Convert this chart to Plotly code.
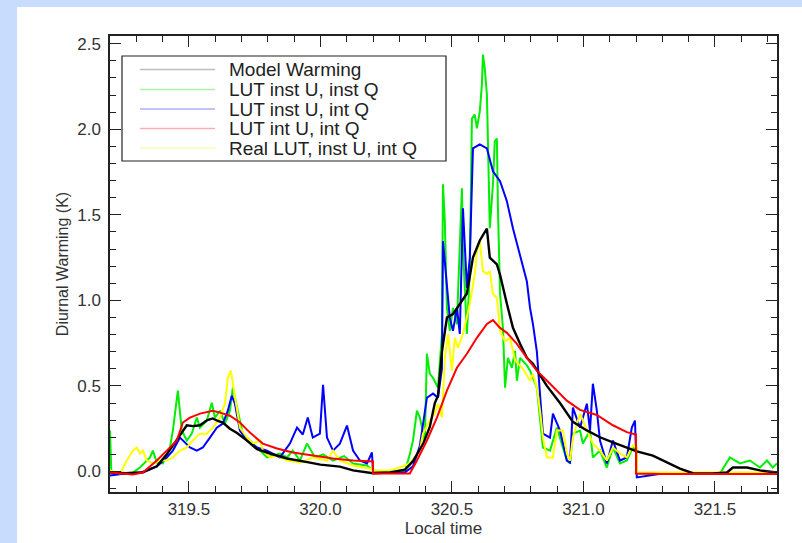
import plotly.graph_objects as go

# ---------------- data ----------------
black_x = [319.200, 319.260, 319.320, 319.378, 319.416, 319.439, 319.466, 319.492, 319.515, 319.542,
           319.570, 319.591, 319.610, 319.629, 319.656, 319.683, 319.721, 319.759, 319.808, 319.873,
           319.950, 320.000, 320.074, 320.124, 320.200, 320.264, 320.321, 320.352, 320.390, 320.416,
           320.435, 320.447, 320.462, 320.481, 320.504, 320.530, 320.557, 320.580, 320.606, 320.633,
           320.644, 320.671, 320.683, 320.709, 320.732, 320.759, 320.785, 320.808, 320.823, 320.861,
           320.911, 320.960, 321.013, 321.063, 321.112, 321.165, 321.203, 321.264, 321.317, 321.367,
           321.416, 321.492, 321.546, 321.568, 321.622, 321.671, 321.736]
black_y = [-0.006, -0.010, -0.006, 0.030, 0.100, 0.150, 0.210, 0.270, 0.265, 0.270,
           0.300, 0.310, 0.295, 0.286, 0.250, 0.225, 0.180, 0.130, 0.105, 0.076,
           0.055, 0.040, 0.028, 0.006, -0.010, -0.006, 0.010, 0.060, 0.160, 0.260,
           0.400, 0.443, 0.700, 0.900, 0.920, 0.980, 1.040, 1.250, 1.350, 1.420,
           1.250, 1.210, 1.150, 0.980, 0.840, 0.746, 0.664, 0.629, 0.590, 0.500,
           0.400, 0.290, 0.240, 0.200, 0.170, 0.140, 0.117, 0.093, 0.052, 0.017,
           -0.010, -0.012, -0.006, 0.023, 0.023, 0.006, -0.006]

green_x = [319.200, 319.205, 319.238, 319.287, 319.314, 319.352, 319.363, 319.378, 319.401, 319.428,
           319.439, 319.458, 319.473, 319.492, 319.511, 319.530, 319.542, 319.568, 319.587, 319.599,
           319.618, 319.637, 319.656, 319.667, 319.683, 319.705, 319.732, 319.770, 319.797, 319.846,
           319.873, 319.895, 319.922, 319.949, 319.980, 320.010, 320.048, 320.090, 320.124, 320.177,
           320.200, 320.264, 320.321, 320.340, 320.352, 320.367, 320.378, 320.397, 320.405, 320.416,
           320.428, 320.447, 320.462, 320.466, 320.473, 320.481, 320.492, 320.504, 320.519, 320.538,
           320.542, 320.557, 320.568, 320.576, 320.587, 320.595, 320.606, 320.614, 320.618, 320.625,
           320.633, 320.637, 320.644, 320.656, 320.663, 320.671, 320.675, 320.683, 320.694, 320.702,
           320.713, 320.728, 320.740, 320.747, 320.759, 320.785, 320.797, 320.823, 320.835, 320.846,
           320.873, 320.899, 320.922, 320.937, 320.949, 320.960, 320.987, 320.998, 321.025, 321.036,
           321.063, 321.089, 321.112, 321.139, 321.165, 321.188, 321.203, 321.203, 321.300, 321.519,
           321.557, 321.595, 321.633, 321.671, 321.698, 321.720, 321.736]
green_y = [0.239, -0.006, -0.012, -0.006, 0.023, 0.082, 0.122, 0.052, 0.047, 0.140,
           0.239, 0.472, 0.239, 0.181, 0.221, 0.315, 0.256, 0.297, 0.402, 0.315,
           0.355, 0.280, 0.355, 0.490, 0.373, 0.221, 0.181, 0.122, 0.082, 0.105,
           0.082, 0.122, 0.064, 0.163, 0.080, 0.100, 0.064, 0.090, 0.047, 0.035,
           0.006, -0.006, 0.000, 0.100, 0.181, 0.355, 0.315, 0.180, 0.688, 0.571,
           0.548, 0.490, 0.800, 1.678, 1.463, 0.956, 0.822, 0.956, 0.860, 1.655,
           1.305, 0.804, 1.171, 2.063, 2.086, 2.005, 2.104, 2.261, 2.436, 2.354,
           2.203, 1.929, 1.422, 1.678, 1.929, 1.946, 1.538, 1.037, 0.839, 0.490,
           0.664, 0.606, 0.705, 0.530, 0.664, 0.620, 0.589, 0.490, 0.309, 0.140,
           0.122, 0.256, 0.140, 0.064, 0.047, 0.221, 0.239, 0.163, 0.239, 0.082,
           0.122, 0.023, 0.140, 0.047, 0.064, 0.140, 0.120, -0.012, -0.012, -0.012,
           0.082, 0.047, 0.064, 0.023, 0.064, 0.023, 0.047]

blue_x = [319.200, 319.260, 319.325, 319.378, 319.416, 319.439, 319.466, 319.504, 319.530, 319.553,
          319.580, 319.606, 319.629, 319.648, 319.663, 319.675, 319.694, 319.721, 319.759, 319.797,
          319.846, 319.884, 319.911, 319.933, 319.952, 319.971, 319.998, 320.010, 320.025, 320.048,
          320.074, 320.101, 320.124, 320.150, 320.177, 320.196, 320.200, 320.264, 320.321, 320.352,
          320.378, 320.405, 320.428, 320.447, 320.462, 320.466, 320.481, 320.492, 320.504, 320.519,
          320.530, 320.542, 320.557, 320.568, 320.580, 320.606, 320.633, 320.656, 320.683, 320.709,
          320.732, 320.759, 320.785, 320.797, 320.808, 320.823, 320.835, 320.846, 320.873, 320.884,
          320.911, 320.937, 320.949, 320.960, 320.987, 321.013, 321.025, 321.036, 321.051, 321.063,
          321.089, 321.112, 321.139, 321.165, 321.184, 321.196, 321.203, 321.300, 321.500, 321.736]
blue_y = [-0.023, -0.012, -0.006, 0.030, 0.082, 0.122, 0.198, 0.140, 0.122, 0.140,
          0.198, 0.256, 0.280, 0.355, 0.443, 0.396, 0.239, 0.181, 0.140, 0.122,
          0.082, 0.163, 0.256, 0.216, 0.315, 0.198, 0.221, 0.507, 0.198, 0.122,
          0.163, 0.268, 0.122, 0.064, 0.047, 0.111, -0.006, -0.006, -0.006, 0.030,
          0.150, 0.431, 0.455, 0.431, 0.600, 1.346, 1.072, 0.897, 0.822, 0.956,
          0.804, 1.538, 1.072, 1.247, 1.888, 1.911, 1.888, 1.754, 1.696, 1.579,
          1.422, 1.270, 1.110, 0.956, 0.862, 0.700, 0.430, 0.221, 0.198, 0.338,
          0.239, 0.064, 0.052, 0.373, 0.256, 0.396, 0.239, 0.513, 0.355, 0.181,
          0.047, 0.181, 0.064, 0.082, 0.256, 0.297, -0.035, -0.012, -0.012, -0.012]

red_x = [319.200, 319.238, 319.287, 319.325, 319.378, 319.416, 319.454, 319.477, 319.504, 319.542,
         319.591, 319.618, 319.656, 319.694, 319.732, 319.781, 319.835, 319.895, 319.971, 320.048,
         320.124, 320.200, 320.200, 320.253, 320.340, 320.367, 320.405, 320.443, 320.481, 320.519,
         320.557, 320.595, 320.633, 320.656, 320.683, 320.709, 320.747, 320.785, 320.823, 320.873,
         320.937, 320.987, 321.051, 321.112, 321.165, 321.200, 321.200, 321.300, 321.500, 321.736]
red_y = [-0.006, -0.012, -0.017, -0.006, 0.064, 0.122, 0.181, 0.286, 0.315, 0.338,
         0.355, 0.344, 0.326, 0.286, 0.227, 0.163, 0.134, 0.111, 0.093, 0.076,
         0.064, 0.058, -0.012, -0.012, -0.012, 0.064, 0.181, 0.315, 0.472, 0.606,
         0.688, 0.781, 0.862, 0.885, 0.839, 0.810, 0.746, 0.664, 0.589, 0.513,
         0.414, 0.360, 0.330, 0.270, 0.230, 0.216, -0.012, -0.015, -0.015, -0.015]

yellow_x = [319.200, 319.238, 319.264, 319.287, 319.302, 319.314, 319.325, 319.340, 319.363, 319.390,
            319.416, 319.439, 319.466, 319.492, 319.515, 319.542, 319.568, 319.591, 319.618, 319.637,
            319.648, 319.660, 319.667, 319.683, 319.694, 319.721, 319.743, 319.770, 319.781, 319.808,
            319.835, 319.873, 319.922, 319.971, 320.025, 320.048, 320.074, 320.124, 320.162, 320.188,
            320.200, 320.226, 320.264, 320.302, 320.340, 320.378, 320.390, 320.416, 320.435, 320.447,
            320.462, 320.473, 320.485, 320.500, 320.511, 320.523, 320.542, 320.568, 320.587, 320.595,
            320.606, 320.618, 320.633, 320.644, 320.656, 320.671, 320.683, 320.702, 320.721, 320.740,
            320.770, 320.797, 320.808, 320.823, 320.835, 320.846, 320.861, 320.884, 320.899, 320.922,
            320.937, 320.949, 320.960, 320.987, 321.013, 321.036, 321.063, 321.089, 321.112, 321.139,
            321.165, 321.188, 321.203, 321.203, 321.400, 321.736]
yellow_y = [0.006, -0.012, 0.064, 0.122, 0.140, 0.105, 0.122, 0.064, 0.047, 0.064,
            0.064, 0.082, 0.122, 0.140, 0.181, 0.221, 0.221, 0.256, 0.315, 0.396,
            0.548, 0.589, 0.513, 0.373, 0.256, 0.198, 0.163, 0.181, 0.122, 0.082,
            0.093, 0.064, 0.052, 0.082, 0.064, 0.122, 0.064, 0.035, 0.023, 0.017,
            0.006, 0.006, 0.006, 0.023, 0.047, 0.122, 0.221, 0.297, 0.338, 0.396,
            0.315, 0.664, 0.804, 0.589, 0.781, 0.723, 0.804, 0.979, 1.154, 1.288,
            1.346, 1.171, 1.154, 1.171, 1.037, 1.014, 0.822, 0.760, 0.780, 0.650,
            0.600, 0.530, 0.571, 0.490, 0.355, 0.198, 0.082, 0.082, 0.239, 0.239,
            0.105, 0.064, 0.198, 0.338, 0.239, 0.163, 0.122, 0.064, 0.140, 0.105,
            0.082, 0.152, 0.140, -0.006, -0.006, -0.006]

legend_names = ["Model Warming", "LUT inst U, inst Q", "LUT inst U, int Q",
                "LUT int U, int Q", "Real LUT, inst U, int Q"]

x_tickvals = [319.5, 320.0, 320.5, 321.0, 321.5]
y_tickvals = [0.0, 0.5, 1.0, 1.5, 2.0, 2.5]

# ---------------- figure ----------------
W, H = 802, 543
ML, MR, MT, MB = 110, 25, 36, 51
PW, PH = W - ML - MR, H - MT - MB

def px(xp):
    return (xp - ML) / PW

def py(yp):
    return (H - MB - yp) / PH

fig = go.Figure()

series = [
    (green_x, green_y, "#00ee00", 2, legend_names[1]),
    (blue_x, blue_y, "#0000ff", 2, legend_names[2]),
    (yellow_x, yellow_y, "#ffff00", 2, legend_names[4]),
    (black_x, black_y, "#000000", 2.4, legend_names[0]),
    (red_x, red_y, "#ff0000", 2, legend_names[3]),
]
for xs, ys, col, w, nm in series:
    fig.add_trace(go.Scatter(x=xs, y=ys, mode="lines", name=nm,
                             line=dict(color=col, width=w), showlegend=False,
                             hoverinfo="skip"))

FONT = "Liberation Sans, Arial, sans-serif"
tickfont = dict(family=FONT, size=17, color="#333333")

axis_common = dict(showgrid=False, zeroline=False, showline=True, linecolor="#222222",
                   linewidth=1.5, mirror="allticks", ticks="inside", ticklen=11,
                   tickwidth=1.3, tickcolor="#222222", tickfont=tickfont,
                   tickformat=".1f", automargin=False,
                   minor=dict(ticks="inside", ticklen=6, tickwidth=1.2,
                              tickcolor="#222222", dtick=0.1, showgrid=False))

fig.update_xaxes(range=[319.2, 321.736], tickvals=x_tickvals, ticklabelstandoff=1,
                 title=dict(text="Local time", standoff=1,
                            font=dict(family=FONT, size=17, color="#333333")),
                 minor_tick0=319.2, **axis_common)
fig.update_yaxes(range=[-0.12, 2.545], tickvals=y_tickvals, ticklabelstandoff=4,
                 title=dict(text="Diurnal Warming (K)", standoff=5,
                            font=dict(family=FONT, size=16, color="#333333")),
                 minor_tick0=0.0, **axis_common)

shapes = []
# slide-style light blue strips
shapes.append(dict(type="rect", xref="paper", yref="paper", layer="below",
                   x0=px(0), x1=px(17), y0=py(H), y1=py(0),
                   fillcolor="#c8ddfd", line=dict(width=0)))
shapes.append(dict(type="rect", xref="paper", yref="paper", layer="below",
                   x0=px(0), x1=px(W), y0=py(7), y1=py(0),
                   fillcolor="#c8ddfd", line=dict(width=0)))
# manual legend box
shapes.append(dict(type="rect", xref="paper", yref="paper",
                   x0=px(122), x1=px(446), y0=py(161), y1=py(56),
                   fillcolor="white", line=dict(color="#222222", width=1.2)))
legend_cols = ["#bdbdbd", "#a8f5a8", "#aeaefc", "#fcaeae", "#fcfcae"]
legend_y = [69.5, 89.5, 109, 128.5, 148]
annotations = []
for nm, col, ly in zip(legend_names, legend_cols, legend_y):
    shapes.append(dict(type="line", xref="paper", yref="paper",
                       x0=px(140), x1=px(215), y0=py(ly), y1=py(ly),
                       line=dict(color=col, width=1.5)))
    annotations.append(dict(xref="paper", yref="paper", x=px(227), y=py(ly),
                            xanchor="left", yanchor="middle", showarrow=False,
                            text=nm, font=dict(family=FONT, size=19, color="#222222")))

fig.update_layout(width=W, height=H, margin=dict(l=ML, r=MR, t=MT, b=MB),
                  paper_bgcolor="white", plot_bgcolor="white",
                  shapes=shapes, annotations=annotations, showlegend=False)

fig.write_html("out.html")
